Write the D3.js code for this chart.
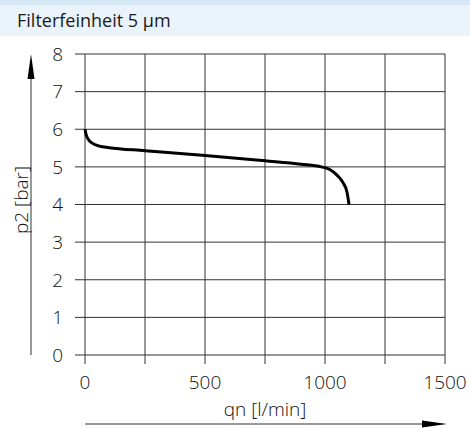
<!DOCTYPE html>
<meta charset="utf-8">
<style>
    body { margin: 0; background: #fff; }
    text { font-family: 'Open Sans', sans-serif; fill: #1a1a1a; }
    .grid line { stroke: #333; stroke-width: 1; }
    .tick-label { font-size: 19px; font-weight: 300; fill: #111; }
</style>
<body>
<script src="https://d3js.org/d3.v7.min.js"></script>
<script>
    // chart values
    var title = "Filterfeinheit 5 µm";
    var xLabel = "qn [l/min]";
    var yLabel = "p2 [bar]";
    var xTicks = [0, 500, 1000, 1500];
    var xGrid = [0, 250, 500, 750, 1000, 1250, 1500];
    var yTicks = [0, 1, 2, 3, 4, 5, 6, 7, 8];
    var flow = [0, 5, 15, 30, 60, 100, 250, 500, 750, 900, 985, 1020, 1050, 1075, 1092, 1100];
    var pressure = [6, 5.85, 5.72, 5.63, 5.55, 5.51, 5.43, 5.30, 5.16, 5.07, 5.0, 4.93, 4.78, 4.58, 4.32, 4.0];

    var width = 470,
        height = 428;

    var svg = d3.select("body").append("svg")
        .attr("width", width)
        .attr("height", height);

    // header band
    svg.append("rect").attr("x", 0).attr("y", 0).attr("width", width).attr("height", 5).attr("fill", "#d6e8f3");
    svg.append("rect").attr("x", 0).attr("y", 5).attr("width", width).attr("height", 31).attr("fill", "#eaf3fa");
    svg.append("text")
        .attr("x", 17).attr("y", 27)
        .style("font-size", "18px")
        .text(title);

    var x = d3.scaleLinear().domain([0, 1500]).range([85, 445]);
    var y = d3.scaleLinear().domain([0, 8]).range([355, 54]);

    var grid = svg.append("g").attr("class", "grid");

    grid.selectAll(".h").data(yTicks).enter().append("line")
        .attr("x1", x(0) - 10).attr("x2", x(1500))
        .attr("y1", function(d) { return y(d); })
        .attr("y2", function(d) { return y(d); });

    grid.selectAll(".v").data(xGrid).enter().append("line")
        .attr("x1", function(d) { return x(d); })
        .attr("x2", function(d) { return x(d); })
        .attr("y1", y(8)).attr("y2", y(0) + 9);

    svg.selectAll(".ylab").data(yTicks).enter().append("text")
        .attr("class", "tick-label")
        .attr("x", 63)
        .attr("y", function(d) { return y(d); })
        .attr("dy", "0.36em")
        .attr("text-anchor", "end")
        .text(function(d) { return d; });

    svg.selectAll(".xlab").data(xTicks).enter().append("text")
        .attr("class", "tick-label")
        .attr("x", function(d) { return x(d); })
        .attr("y", 389)
        .attr("text-anchor", "middle")
        .text(function(d) { return d; });

    // curve
    var line = d3.line()
        .x(function(d, i) { return x(flow[i]); })
        .y(function(d, i) { return y(pressure[i]); })
        .curve(d3.curveMonotoneX);

    svg.append("path")
        .datum(flow)
        .attr("d", line)
        .attr("fill", "none")
        .attr("stroke", "#000")
        .attr("stroke-width", 3);

    // axis arrows
    svg.append("line").attr("x1", 31).attr("x2", 31).attr("y1", 78).attr("y2", 355)
        .attr("stroke", "#333").attr("stroke-width", 1);
    svg.append("path").attr("d", "M31,54 L27.5,79 L34.5,79 Z").attr("fill", "#000");

    svg.append("line").attr("x1", 85).attr("x2", 424).attr("y1", 424).attr("y2", 424)
        .attr("stroke", "#333").attr("stroke-width", 1);
    svg.append("path").attr("d", "M447,424 L422,420.5 L422,427.5 Z").attr("fill", "#000");

    svg.append("text")
        .attr("x", 265).attr("y", 416)
        .attr("text-anchor", "middle")
        .style("font-size", "19px")
        .style("font-weight", "300")
        .style("fill", "#111")
        .text(xLabel);

    svg.append("text")
        .attr("transform", "translate(28,200) rotate(-90)")
        .attr("text-anchor", "middle")
        .style("font-size", "19px")
        .style("font-weight", "300")
        .style("fill", "#111")
        .text(yLabel);
</script>
</body>
